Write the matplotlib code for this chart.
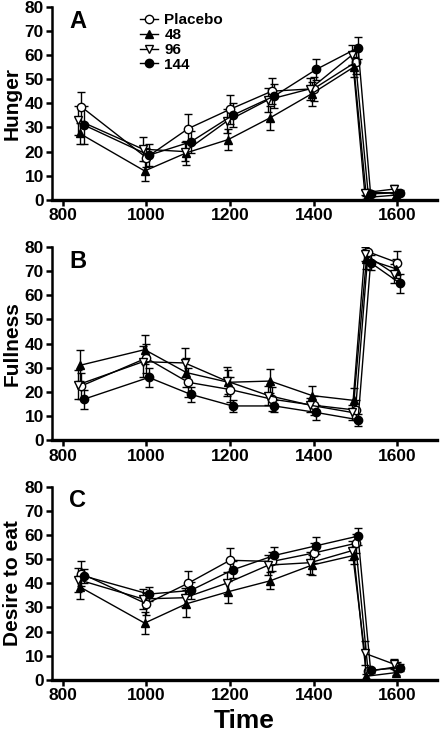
import matplotlib
matplotlib.use("Agg")
import matplotlib.pyplot as plt
from matplotlib.lines import Line2D

plt.rcParams['font.family'] = ['Liberation Sans', 'DejaVu Sans']
plt.rcParams['font.weight'] = 'bold'

groups = ["Placebo", "48", "96", "144"]
times = [845, 1000, 1100, 1200, 1300, 1400, 1500, 1530, 1600]
x_shift = {"Placebo": 0, "48": -4, "96": -8, "144": 6}

hunger = {
    "Placebo": [38.5, 17.5, 29.5, 37.5, 45, 46, 57, 3, 3],
    "48": [27.5, 12, 19.5, 25, 34, 44, 55, 1, 2],
    "96": [33, 21, 20, 32.5, 41.5, 46, 60, 3, 4.5],
    "144": [31, 18.5, 24, 35, 43, 54, 63, 2.5, 3],
}
hunger_err = {
    "Placebo": [6, 4, 6, 6, 5.5, 5, 5, 1, 1],
    "48": [4.5, 4, 5, 4.5, 5, 5, 4, 0.5, 1],
    "96": [6, 5, 4, 5, 5, 4.5, 4, 1, 1.5],
    "144": [8, 4.5, 4.5, 5, 5, 4.5, 4.5, 1, 1],
}
fullness = {
    "Placebo": [22.5, 34, 24, 21, 17, 14.5, 12.5, 78, 73.5],
    "48": [31, 37.5, 28, 24, 24.5, 18.5, 16.5, 75, 71],
    "96": [23, 32.5, 32, 24.5, 18.5, 14.5, 11.5, 77, 69],
    "144": [17, 26, 19, 14.2, 14.2, 11.5, 8.5, 73.5, 65],
}
fullness_err = {
    "Placebo": [5.5, 6, 6, 5, 5, 4, 4, 3, 5],
    "48": [6.5, 6, 6, 5, 5, 4, 5, 4, 4],
    "96": [6, 6.5, 6, 6, 4, 3, 3, 3, 4],
    "144": [4, 4, 3, 2.5, 2.5, 3, 2.5, 3, 4],
}
desire = {
    "Placebo": [44, 31.5, 40, 49.5, 49, 52.5, 56.5, 3.5, 5.5],
    "48": [38.5, 23.5, 31.5, 36.5, 41, 47.5, 51.5, 1.5, 3],
    "96": [41.5, 33.5, 34, 40, 47.5, 48.5, 53.5, 11, 6.5],
    "144": [43, 35.5, 37, 45.5, 51.5, 55.5, 59.5, 4, 5],
}
desire_err = {
    "Placebo": [5, 4.5, 5, 5, 4, 4, 4, 1, 2],
    "48": [5, 4.5, 5.5, 4.5, 3.5, 4, 3.5, 1, 1],
    "96": [5, 4, 4, 4.5, 4, 4.5, 4, 5, 2],
    "144": [3, 3, 3.5, 3.5, 3.5, 3.5, 3.5, 1, 1.5],
}

styles = {
    "Placebo": dict(marker="o", mfc="white"),
    "48": dict(marker="^", mfc="black"),
    "96": dict(marker="v", mfc="white"),
    "144": dict(marker="o", mfc="black"),
}

fig = plt.figure(figsize=(4.42, 7.35), dpi=100)
panels = [("A", "Hunger", hunger, hunger_err, 0.728),
          ("B", "Fullness", fullness, fullness_err, 0.401),
          ("C", "Desire to eat", desire, desire_err, 0.075)]

for letter, label, data, err, bottom in panels:
    ax = fig.add_axes([0.118, bottom, 0.871, 0.263])
    for g in groups:
        xs = [t + x_shift[g] for t in times]
        ax.errorbar(xs, data[g], yerr=err[g], color="black", lw=1,
                    elinewidth=1, capsize=3, capthick=1, mec="black",
                    ms=6, mew=1, **styles[g])
    ax.set_xlim(775, 1695)
    ax.set_ylim(0, 80)
    ax.set_xticks([800, 1000, 1200, 1400, 1600])
    ax.set_yticks(range(0, 81, 10))
    ax.spines['top'].set_visible(False)
    ax.spines['right'].set_visible(False)
    ax.spines['left'].set_linewidth(1.8)
    ax.spines['bottom'].set_linewidth(2.4)
    ax.tick_params(width=1.8, length=4, labelsize=12.5, pad=2)
    for t in ax.get_xticklabels() + ax.get_yticklabels():
        t.set_fontweight('bold')
    ax.set_ylabel(label, fontsize=15, fontweight='bold', labelpad=2)
    ax.text(0.045, 0.985, letter, transform=ax.transAxes, fontsize=17,
            fontweight='bold', va='top', ha='left')
    if letter == "A":
        handles = [Line2D([], [], color="black", lw=1, mec="black", ms=6,
                          mew=1, **styles[g]) for g in groups]
        ax.legend(handles, groups, loc="upper left", bbox_to_anchor=(0.2, 1.02),
                  frameon=False, prop={'weight': 'bold', 'size': 11},
                  handlelength=1.2, handletextpad=0.4, labelspacing=0.05,
                  borderpad=0.2)
    if letter == "C":
        ax.set_xlabel("Time", fontsize=19, fontweight='bold', labelpad=4)

fig.savefig("out.png", dpi=100)
